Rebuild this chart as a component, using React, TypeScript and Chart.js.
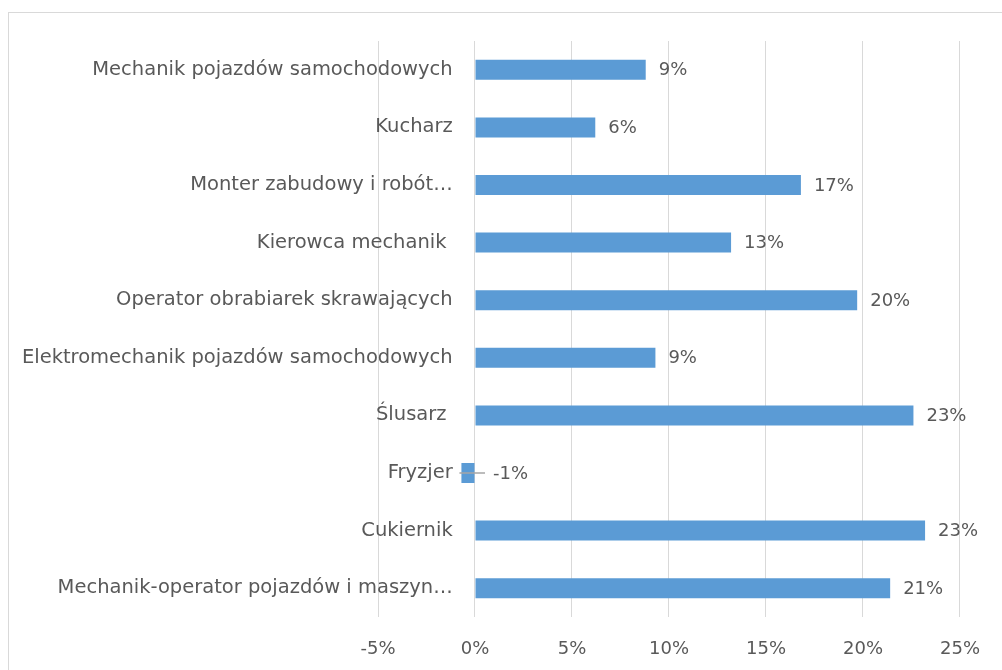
import React, { useEffect, useRef } from "react";
import { Chart, registerables } from "chart.js";

Chart.register(...registerables);

const categories = [
  "Mechanik pojazdów samochodowych",
  "Kucharz",
  "Monter zabudowy i robót…",
  "Kierowca mechanik ",
  "Operator obrabiarek skrawających",
  "Elektromechanik pojazdów samochodowych",
  "Ślusarz ",
  "Fryzjer",
  "Cukiernik",
  "Mechanik-operator pojazdów i maszyn…",
];
const values = [8.8, 6.2, 16.8, 13.2, 19.7, 9.3, 22.6, -0.7, 23.2, 21.4];
const xTicksMin = -5;
const xTicksMax = 25;
const xStep = 5;

const FONT = "'DejaVu Sans', sans-serif";
const TEXT = "#595959";
const GRID = "#d9d9d9";
const BAR = "#5b9bd5";

const dataLabels = {
  id: "dataLabels",
  afterDatasetsDraw(chart: any) {
    const ctx = chart.ctx;
    const meta = chart.getDatasetMeta(0);
    const xs = chart.scales.x;
    const zero = xs.getPixelForValue(0);
    ctx.save();
    ctx.font = `18px ${FONT}`;
    ctx.fillStyle = TEXT;
    ctx.textBaseline = "middle";
    ctx.textAlign = "left";
    meta.data.forEach((bar: any, i: number) => {
      const v = values[i];
      const txt = `${Math.round(v)}%`;
      if (v >= 0) {
        ctx.fillText(txt, bar.x + 13, bar.y + 1);
      } else {
        ctx.strokeStyle = "#a6a6a6";
        ctx.lineWidth = 1.5;
        ctx.beginPath();
        ctx.moveTo(bar.x - 2, Math.round(bar.y));
        ctx.lineTo(zero + 10, Math.round(bar.y));
        ctx.stroke();
        ctx.fillText(txt, zero + 18, bar.y + 1);
      }
    });
    ctx.restore();
  },
};

export default function App() {
  const ref = useRef<HTMLCanvasElement>(null);
  useEffect(() => {
    if (!ref.current) return;
    const chart = new Chart(ref.current, {
      type: "bar",
      data: {
        labels: categories,
        datasets: [
          {
            data: values,
            backgroundColor: BAR,
            borderWidth: 0,
            categoryPercentage: 1,
            barPercentage: 0.347,
          },
        ],
      },
      options: {
        indexAxis: "y",
        responsive: false,
        animation: false,
        layout: { padding: { left: 378, right: 38, top: 41, bottom: 12 } },
        plugins: {
          legend: { display: false },
          tooltip: { enabled: false },
        },
        scales: {
          x: {
            type: "linear",
            min: xTicksMin,
            max: xTicksMax,
            ticks: {
              stepSize: xStep,
              color: TEXT,
              font: { family: FONT, size: 18 },
              padding: 22,
              maxRotation: 0,
              callback: (v: any) => `${v}%`,
            },
            grid: { color: GRID, lineWidth: 1, drawTicks: false },
            border: { display: false },
            afterFit: (scale: any) => {
              scale.height = 41;
            },
          },
          y: {
            type: "category",
            position: { x: -1.15 } as any,
            ticks: {
              color: TEXT,
              font: { family: FONT, size: 19.5 },
              padding: 0,
              autoSkip: false,
            },
            grid: { display: false, drawTicks: false },
            border: { display: false },
          },
        },
      },
      plugins: [dataLabels],
    });
    return () => chart.destroy();
  }, []);

  return (
    <div
      style={{
        position: "fixed",
        left: 0,
        top: 0,
        width: 1002,
        height: 670,
        overflow: "hidden",
        background: "#fff",
      }}
    >
      <div
        style={{
          position: "absolute",
          left: 8,
          top: 12,
          width: 1100,
          height: 800,
          border: "1px solid #d9d9d9",
        }}
      />
      <canvas
        ref={ref}
        width={1002}
        height={670}
        style={{ position: "absolute", left: 0, top: 0, width: 1002, height: 670 }}
      />
    </div>
  );
}
